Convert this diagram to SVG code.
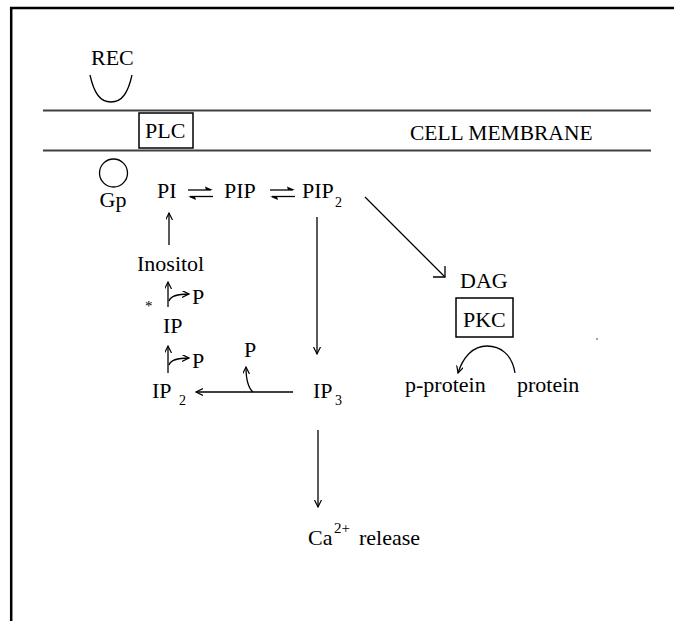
<svg xmlns="http://www.w3.org/2000/svg" width="674" height="621" viewBox="0 0 674 621">
<defs>
<style>
text{font-family:"Liberation Serif","Times New Roman",serif;font-size:22px;fill:#000}
.sub{font-size:14px}
.ln{stroke:#000;stroke-width:1.3;fill:none}
.mem{stroke:#404040;stroke-width:2;fill:none}
.box{stroke:#000;stroke-width:1.5;fill:none}
.eq{fill:#000;stroke:none}
</style>
<marker id="open" markerUnits="userSpaceOnUse" markerWidth="10" markerHeight="10" refX="7" refY="3.5" orient="auto">
<path d="M0,0 L7,3.5 L0,7" fill="none" stroke="#000" stroke-width="1.2"/>
</marker>
</defs>
<rect width="674" height="621" fill="#fff"/>
<g id="frame">
<line x1="10" y1="8" x2="674" y2="8" stroke="#000" stroke-width="2.5"/>
<line x1="11.2" y1="7" x2="11.2" y2="621" stroke="#000" stroke-width="2.5"/>
</g>
<g id="membrane">
<line class="mem" x1="43" y1="110.5" x2="651" y2="110.5"/>
<line class="mem" x1="43" y1="150.5" x2="651" y2="150.5"/>
<text x="410" y="140" style="font-size:21.5px">CELL MEMBRANE</text>
</g>
<g id="rec">
<text x="91" y="65">REC</text>
<path class="ln" d="M90,75 C94,93 100,102 111,102 C122,102 128,93 132,75"/>
</g>
<g id="plc">
<rect class="box" x="139" y="113" width="54" height="35"/>
<text x="145" y="138">PLC</text>
</g>
<g id="gp">
<circle class="ln" cx="113.5" cy="173" r="14"/>
<text x="113" y="207" text-anchor="middle">Gp</text>
</g>
<g id="pi"><text x="157" y="198">PI</text></g>
<g id="pip"><text x="224" y="198">PIP</text></g>
<g id="pip2"><text x="302" y="198">PIP</text><text class="sub" x="335" y="207">2</text></g>
<g id="inositol"><text x="137" y="271">Inositol</text></g>
<g id="asterisk"><text x="145" y="311" style="font-size:15px">*</text></g>
<g id="p1"><text x="192" y="304">P</text></g>
<g id="ip"><text x="163" y="333">IP</text></g>
<g id="p2"><text x="192" y="368">P</text></g>
<g id="ip2"><text x="152" y="398">IP</text><text class="sub" x="179" y="405">2</text></g>
<g id="p3"><text x="244" y="357">P</text></g>
<g id="ip3"><text x="313" y="398">IP</text><text class="sub" x="335" y="405">3</text></g>
<g id="ca"><text x="308" y="545">Ca</text><text class="sub" x="334" y="533" style="font-size:15px">2+</text><text x="359" y="545">release</text></g>
<g id="dag"><text x="460" y="288">DAG</text></g>
<g id="pkc">
<rect class="box" x="456" y="298" width="57" height="39"/>
<text x="463" y="327">PKC</text>
</g>
<g id="pprotein"><text x="405" y="392">p-protein</text></g>
<g id="protein"><text x="517" y="392">protein</text></g>
<g id="dot"><circle cx="597" cy="339" r="0.8" fill="#333"/></g>
<g id="connectors">
<line class="ln" x1="188" y1="190" x2="211" y2="190"/>
<path class="eq" d="M213,190 L205,186.5 L206,190 Z"/>
<line class="ln" x1="190" y1="196.5" x2="213" y2="196.5"/>
<path class="eq" d="M188,196.5 L196,200 L195,196.5 Z"/>
<line class="ln" x1="270" y1="190" x2="293" y2="190"/>
<path class="eq" d="M295,190 L287,186.5 L288,190 Z"/>
<line class="ln" x1="272" y1="196.5" x2="295" y2="196.5"/>
<path class="eq" d="M270,196.5 L278,200 L277,196.5 Z"/>
<line class="ln" x1="169" y1="245" x2="169" y2="213" marker-end="url(#open)"/>
<line class="ln" x1="168" y1="307" x2="168" y2="282" marker-end="url(#open)"/>
<path class="ln" d="M169,301 Q171,294 189,294" marker-end="url(#open)"/>
<line class="ln" x1="168" y1="373" x2="168" y2="346" marker-end="url(#open)"/>
<path class="ln" d="M169,365 Q171,358 189,358" marker-end="url(#open)"/>
<line class="ln" x1="293" y1="392" x2="196" y2="392" marker-end="url(#open)"/>
<path class="ln" d="M253,392 Q246,386 246,367" marker-end="url(#open)"/>
<line class="ln" x1="317" y1="217" x2="317" y2="354" marker-end="url(#open)"/>
<line class="ln" x1="318" y1="430" x2="318" y2="507" marker-end="url(#open)"/>
<line class="ln" x1="365" y1="197" x2="445" y2="277"/>
<path class="ln" d="M433,277 L445,277 L445,266"/>
<path class="ln" d="M515,373 C512,354 500,346 487,346 C473,346 463,357 458,373" marker-end="url(#open)"/>
</g>
</svg>
